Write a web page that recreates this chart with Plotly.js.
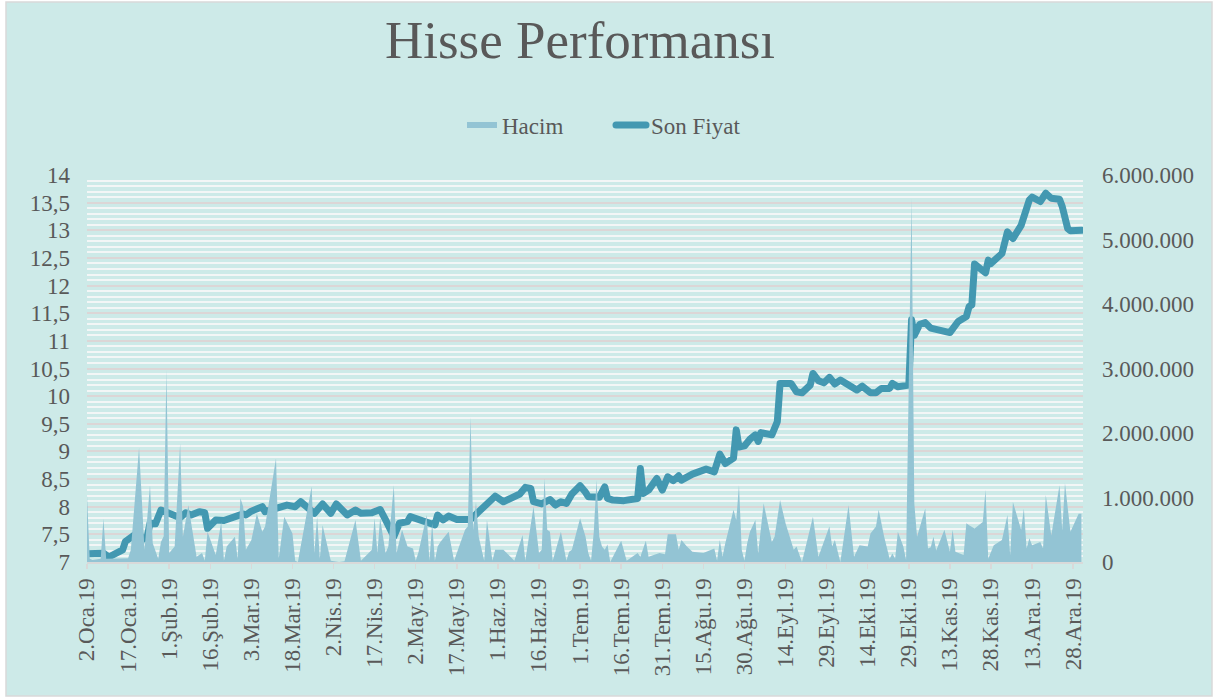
<!DOCTYPE html>
<html>
<head>
<meta charset="utf-8">
<script src="https://cdn.plot.ly/plotly-3.0.1.min.js"></script>
<style>
html,body{margin:0;padding:0;background:#ffffff;}
#chart{width:1217px;height:698px;}
.scatterlayer .js-line,.legend .js-line{stroke-linejoin:round;stroke-linecap:round;}
</style>
</head>
<body>
<div id="chart"></div>
<script>
// X tick positions and labels (Turkish short month names)
const tickDates = ['2019-01-02','2019-01-17','2019-02-01','2019-02-16','2019-03-03','2019-03-18','2019-04-02','2019-04-17','2019-05-02','2019-05-17','2019-06-01','2019-06-16','2019-07-01','2019-07-16','2019-07-31','2019-08-15','2019-08-30','2019-09-14','2019-09-29','2019-10-14','2019-10-29','2019-11-13','2019-11-28','2019-12-13','2019-12-28'];
const tickLabels = ['2.Oca.19','17.Oca.19','1.Şub.19','16.Şub.19','3.Mar.19','18.Mar.19','2.Nis.19','17.Nis.19','2.May.19','17.May.19','1.Haz.19','16.Haz.19','1.Tem.19','16.Tem.19','31.Tem.19','15.Ağu.19','30.Ağu.19','14.Eyl.19','29.Eyl.19','14.Eki.19','29.Eki.19','13.Kas.19','28.Kas.19','13.Ara.19','28.Ara.19'];

// Son Fiyat: days after 2 Jan 2019 and closing price
const priceDays = [0,3,6,8,13,14,16,19,20,22,23,25,27,30,34,36,38,41,43,44,47,50,54,57,58,60,64,65,73,76,78,83,86,89,91,95,98,100,104,107,109,112,114,117,118,121,123,127,128,130,132,135,140,143,145,149,152,158,160,162,163,166,169,171,173,175,177,180,182,183,187,189,190,192,196,201,202,203,205,208,210,212,214,216,217,221,226,229,231,233,236,237,238,240,242,244,245,246,250,252,253,257,259,261,264,265,267,269,271,273,275,280,281,283,286,288,290,293,294,296,300,301,302,304,306,308,313,315,318,321,322,323,324,326,328,329,330,334,336,338,341,344,345,348,350,352,355,356,358,359,363];
const prices = [7.15,7.15,7.16,7.09,7.22,7.37,7.43,7.55,7.40,7.46,7.70,7.69,7.94,7.89,7.80,7.89,7.85,7.91,7.89,7.61,7.76,7.75,7.82,7.87,7.85,7.92,8.00,7.91,8.03,8.00,8.09,7.88,8.05,7.88,8.05,7.85,7.94,7.88,7.89,7.95,7.76,7.46,7.70,7.73,7.82,7.77,7.76,7.67,7.85,7.76,7.83,7.77,7.77,7.91,8.00,8.19,8.09,8.23,8.35,8.33,8.09,8.05,8.13,8.03,8.09,8.06,8.23,8.38,8.26,8.18,8.17,8.36,8.15,8.12,8.11,8.15,8.69,8.24,8.30,8.51,8.30,8.54,8.47,8.56,8.48,8.59,8.68,8.63,8.95,8.78,8.88,9.39,9.08,9.10,9.22,9.30,9.18,9.34,9.30,9.54,10.23,10.23,10.08,10.06,10.20,10.41,10.28,10.24,10.34,10.22,10.29,10.12,10.11,10.18,10.06,10.06,10.14,10.14,10.23,10.17,10.20,11.38,11.10,11.30,11.33,11.23,11.15,11.15,11.35,11.44,11.62,11.65,12.39,12.31,12.23,12.46,12.40,12.58,12.97,12.85,13.09,13.55,13.60,13.52,13.67,13.58,13.56,13.43,13.03,12.99,13.00];

// Hacim: days after 2 Jan 2019 and traded volume
const volumeDays = [0,1,2,5,6,7,15,16,19,21,23,24,26,27,28,29,30,32,34,35,37,40,42,43,44,47,49,50,51,54,55,56,57,58,60,62,64,65,69,70,72,75,76,77,78,82,83,84,85,86,89,92,94,98,100,104,105,106,107,109,110,112,113,115,117,119,120,121,124,125,126,127,128,129,132,134,138,139,140,141,142,143,145,146,148,149,152,156,159,160,163,165,166,167,168,169,170,173,175,176,177,180,182,183,184,185,186,187,188,189,190,191,195,197,201,202,204,205,209,211,212,215,216,217,219,221,225,229,230,231,232,233,236,237,238,239,240,241,242,244,245,247,250,251,253,255,258,259,261,265,267,271,272,273,275,278,280,282,285,286,288,289,291,293,294,295,296,298,299,301,302,303,306,307,308,309,310,313,315,316,317,320,321,322,324,327,328,329,331,334,336,337,338,341,342,343,344,345,348,349,350,352,355,356,357,359,362,363];
const volumes = [1030000,50000,30000,50000,670000,50000,60000,190000,1770000,190000,1190000,290000,50000,310000,400000,2980000,140000,240000,1840000,390000,880000,80000,140000,20000,470000,110000,620000,20000,240000,390000,50000,990000,860000,190000,340000,750000,470000,550000,1610000,60000,700000,440000,20000,0,240000,1170000,140000,700000,50000,570000,20000,0,10000,650000,20000,190000,680000,140000,680000,140000,240000,1190000,140000,500000,240000,210000,20000,150000,730000,20000,600000,20000,240000,310000,470000,20000,500000,550000,2250000,500000,930000,390000,20000,650000,20000,190000,190000,20000,420000,20000,860000,140000,190000,1300000,500000,470000,20000,470000,20000,160000,190000,680000,390000,140000,20000,470000,1270000,390000,240000,190000,270000,0,330000,20000,140000,80000,330000,80000,140000,120000,430000,430000,190000,340000,240000,160000,140000,210000,20000,340000,80000,290000,810000,650000,1190000,190000,20000,290000,470000,650000,130000,910000,310000,390000,960000,600000,190000,240000,0,700000,80000,550000,240000,340000,0,880000,80000,260000,240000,440000,550000,810000,390000,50000,130000,50000,470000,240000,30000,5640000,910000,390000,830000,210000,230000,390000,180000,500000,160000,500000,160000,110000,600000,570000,520000,620000,1120000,50000,260000,340000,730000,100000,930000,500000,830000,210000,370000,260000,310000,210000,1040000,410000,1190000,490000,1220000,470000,750000,750000];

function dayToDate(d) {
  const t = new Date(Date.UTC(2019, 0, 2 + d));
  return t.toISOString().slice(0, 10);
}

const FONT = 'Liberation Serif, DejaVu Serif, serif';
const TEXT = '#595959';

const volumeTrace = {
  type: 'scatter',
  name: 'Hacim',
  x: volumeDays.map(dayToDate),
  y: volumes,
  yaxis: 'y2',
  mode: 'none',
  fill: 'tozeroy',
  fillcolor: '#93c4d4',
  hoverinfo: 'skip'
};

const priceTrace = {
  type: 'scatter',
  name: 'Son Fiyat',
  x: priceDays.map(dayToDate),
  y: prices,
  yaxis: 'y',
  mode: 'lines',
  line: {color: '#4398b1', width: 7},
  hoverinfo: 'skip'
};

// chart border (pixel positions converted to paper fractions)
const plotL = 87, plotR = 1083, plotT = 175, plotB = 562;
const pw = plotR - plotL, ph = plotB - plotT;
const px = v => (v - plotL) / pw;
const py = v => (plotB - v) / ph;

const layout = {
  width: 1217,
  height: 698,
  margin: {l: plotL, r: 1217 - plotR, t: plotT, b: 698 - plotB, pad: 0},
  paper_bgcolor: '#ffffff',
  plot_bgcolor: 'rgba(0,0,0,0)',
  separators: ',.',
  font: {family: FONT, color: TEXT, size: 23},
  title: {
    text: 'Hisse Performansı',
    font: {family: FONT, size: 53, color: TEXT},
    x: 0.4766, xanchor: 'center',
    y: 0.943, yanchor: 'middle'
  },
  showlegend: true,
  legend: {
    orientation: 'h',
    x: px(611), xanchor: 'center',
    y: 1.129, yanchor: 'middle',
    font: {family: FONT, size: 23, color: TEXT},
    bgcolor: 'rgba(0,0,0,0)',
    traceorder: 'normal',
    entrywidth: 104,
    entrywidthmode: 'pixels'
  },
  xaxis: {
    type: 'date',
    range: ['2019-01-02', '2019-12-31 14:00'],
    tickmode: 'array',
    tickvals: tickDates,
    ticktext: tickLabels,
    tickangle: -90,
    tickfont: {family: FONT, size: 23, color: TEXT},
    ticks: 'outside',
    ticklen: 5,
    tickwidth: 1.5,
    tickcolor: '#d9d9d9',
    showline: true,
    linecolor: '#d9d9d9',
    linewidth: 2,
    showgrid: false,
    zeroline: false,
    fixedrange: true
  },
  yaxis: {
    range: [7, 14],
    dtick: 0.5,
    tick0: 7,
    tickfont: {family: FONT, size: 23, color: TEXT},
    ticks: '',
    ticklabelstandoff: 16,
    showline: false,
    zeroline: false,
    showgrid: true,
    gridcolor: '#dcd6d6',
    gridwidth: 2,
    minor: {dtick: 0.1, tick0: 7, showgrid: true, gridcolor: '#f3f6f6', gridwidth: 2, ticks: ''},
    fixedrange: true
  },
  yaxis2: {
    overlaying: 'y',
    side: 'right',
    range: [0, 6000000],
    dtick: 1000000,
    tickformat: ',d',
    tickfont: {family: FONT, size: 23, color: TEXT},
    ticks: '',
    ticklabelstandoff: 18,
    showgrid: false,
    showline: false,
    zeroline: false,
    fixedrange: true
  },
  shapes: [{
    type: 'rect', xref: 'paper', yref: 'paper', layer: 'below',
    x0: px(6), x1: px(1212), y0: py(696), y1: py(2),
    fillcolor: '#cdeae8',
    line: {color: '#d9d9d9', width: 1.5}
  }],
  hovermode: false
};

Plotly.newPlot('chart', [volumeTrace, priceTrace], layout, {displayModeBar: false, staticPlot: true});
</script>
</body>
</html>
